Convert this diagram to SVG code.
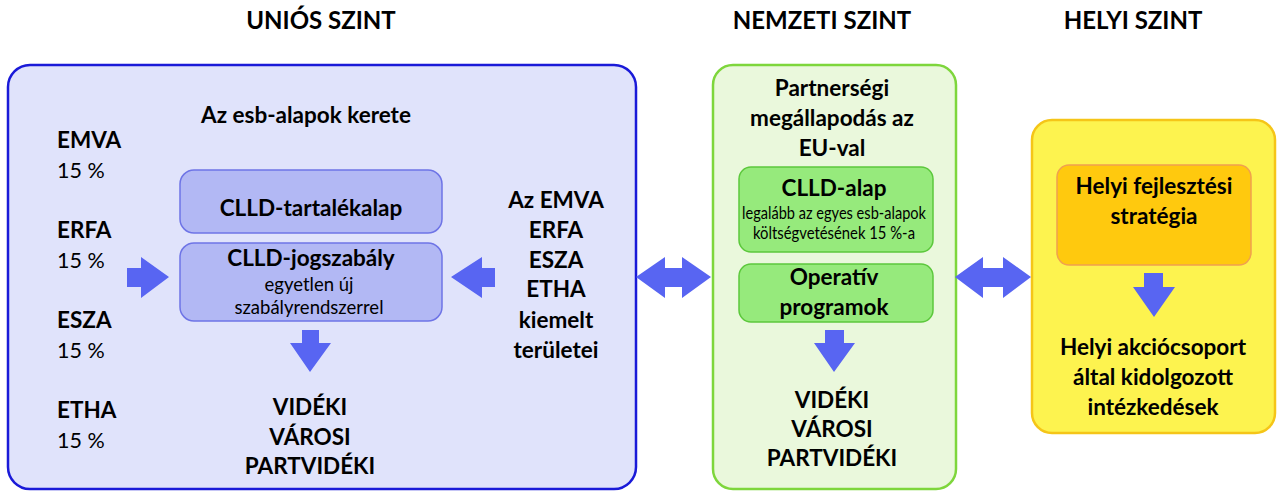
<svg xmlns="http://www.w3.org/2000/svg" width="1281" height="504" viewBox="0 0 1281 504">
<style>
text{font-family:Lato,"Open Sans","Liberation Sans",sans-serif;fill:#000;text-anchor:middle}
.t{font-size:24px;font-weight:bold}
.l{font-size:22.5px;font-weight:bold}
.n{font-size:21.5px}
.s{font-size:18.5px}
.xs{font-size:16.5px}
.st{text-anchor:start}
.arr{fill:#5865f2}
</style>
<rect width="1281" height="504" fill="#fff"/>
<g id="titles">
<text class="t" x="321" y="29">UNIÓS SZINT</text>
<text class="t" x="822" y="29">NEMZETI SZINT</text>
<text class="t" x="1133" y="29">HELYI SZINT</text>
</g>
<g id="unios">
<rect x="8" y="65" width="628" height="424" rx="22" fill="#e0e3fb" stroke="#1a1ad8" stroke-width="2.5"/>
<text class="l" x="306" y="123">Az esb-alapok kerete</text>
<text class="l st" x="57" y="148">EMVA</text>
<text class="n st" x="57" y="178">15 %</text>
<text class="l st" x="57" y="238">ERFA</text>
<text class="n st" x="57" y="268">15 %</text>
<text class="l st" x="57" y="328">ESZA</text>
<text class="n st" x="57" y="358">15 %</text>
<text class="l st" x="57" y="418">ETHA</text>
<text class="n st" x="57" y="448">15 %</text>
<text class="l" x="556" y="208">Az EMVA</text>
<text class="l" x="556" y="238">ERFA</text>
<text class="l" x="556" y="268">ESZA</text>
<text class="l" x="556" y="297">ETHA</text>
<text class="l" x="556" y="328">kiemelt</text>
<text class="l" x="556" y="358">területei</text>
<text class="l" x="310" y="415">VIDÉKI</text>
<text class="l" x="310" y="445">VÁROSI</text>
<text class="l" x="310" y="474">PARTVIDÉKI</text>
</g>
<g id="tartalekalap">
<rect x="180" y="170" width="262" height="63" rx="14" fill="#b2b8f4" stroke="#6e74e6" stroke-width="1.5"/>
<text class="l" x="311" y="216">CLLD-tartalékalap</text>
</g>
<g id="jogszabaly">
<rect x="180" y="243" width="262" height="78" rx="14" fill="#b2b8f4" stroke="#6e74e6" stroke-width="1.5"/>
<text class="l" x="311" y="266">CLLD-jogszabály</text>
<text class="s" x="309" y="291">egyetlen új</text>
<text class="s" x="309" y="314">szabályrendszerrel</text>
</g>
<g id="nemzeti">
<rect x="713" y="65" width="243" height="424" rx="20" fill="#eaf8dc" stroke="#7ed63c" stroke-width="2.5"/>
<text class="l" x="832" y="96">Partnerségi</text>
<text class="l" x="832" y="126">megállapodás az</text>
<text class="l" x="832" y="156">EU-val</text>
<text class="l" x="832" y="408">VIDÉKI</text>
<text class="l" x="832" y="437">VÁROSI</text>
<text class="l" x="832" y="466">PARTVIDÉKI</text>
</g>
<g id="clld-alap">
<rect x="739" y="167" width="194" height="85" rx="12" fill="#96ea7c" stroke="#5cc83c" stroke-width="1.5"/>
<text class="l" x="834" y="196">CLLD-alap</text>
<text class="xs" x="834" y="219" textLength="184" lengthAdjust="spacingAndGlyphs">legalább az egyes esb-alapok</text>
<text class="xs" x="834" y="239" textLength="162" lengthAdjust="spacingAndGlyphs">költségvetésének 15 %-a</text>
</g>
<g id="operativ">
<rect x="739" y="264" width="194" height="58" rx="12" fill="#96ea7c" stroke="#5cc83c" stroke-width="1.5"/>
<text class="l" x="834" y="285">Operatív</text>
<text class="l" x="834" y="315">programok</text>
</g>
<g id="helyi">
<rect x="1032" y="120" width="243" height="313" rx="20" fill="#fdf34f" stroke="#f5c518" stroke-width="2.5"/>
<text class="l" x="1153" y="355">Helyi akciócsoport</text>
<text class="l" x="1153" y="385">által kidolgozott</text>
<text class="l" x="1153" y="415">intézkedések</text>
</g>
<g id="strategia">
<rect x="1057" y="165" width="194" height="100" rx="12" fill="#ffc90e" stroke="#f0a050" stroke-width="1.5"/>
<text class="l" x="1154" y="194">Helyi fejlesztési</text>
<text class="l" x="1154" y="224">stratégia</text>
</g>
<g id="connectors">
<polygon class="arr" points="127,268 141,268 141,257 169,277 141,298 141,287 127,287"/>
<polygon class="arr" points="495,268 482,268 482,257 451,277 482,298 482,287 495,287"/>
<polygon class="arr" points="302,330 319,330 319,343 331,343 310,372 290,343 302,343"/>
<polygon class="arr" points="825,330 844,330 844,343 855,343 834,372 814,343 825,343"/>
<polygon class="arr" points="1144,273 1163,273 1163,287 1175,287 1154,317 1133,287 1144,287"/>
<polygon class="arr" points="636,277 665,257 665,268 682,268 682,257 711,277 682,298 682,287 665,287 665,298"/>
<polygon class="arr" points="955,277 983,257 983,268 1003,268 1003,257 1031,277 1003,298 1003,287 983,287 983,298"/>
</g>
</svg>
